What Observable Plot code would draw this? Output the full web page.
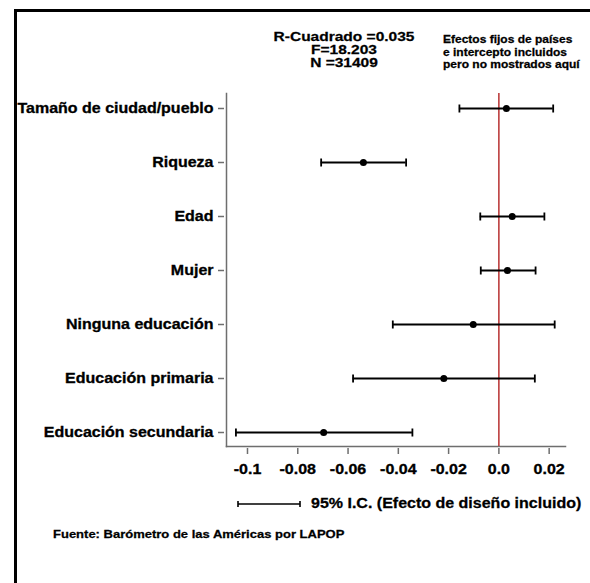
<!DOCTYPE html>
<html>
<head>
<meta charset="utf-8">
<script src="https://cdn.jsdelivr.net/npm/d3@7"></script>
<script src="https://cdn.jsdelivr.net/npm/@observablehq/plot@0.6"></script>
<style>
  html, body { margin: 0; padding: 0; background: #fff; }
  #wrap { position: relative; width: 590px; height: 583px; overflow: hidden; background: #fff;
          font-family: "Liberation Sans", Arial, Helvetica, sans-serif; font-weight: bold; color: #000; }
  #wrap svg.plot { position: absolute; left: 0; top: 0; background: transparent; }
  #wrap svg.plot text { stroke: #000; stroke-width: 0.35px; }
  .heavy { -webkit-text-stroke: 0.3px #000; }
  #border { position: absolute; left: 14px; top: 9px; width: 700px; height: 700px; border: 3px solid #000; box-sizing: border-box; }
  .statline { position: absolute; left: 244px; width: 200px; height: 13px; text-align: center; font-size: 15.5px; line-height: 13px;
              transform: scaleY(0.87); }
  .noteline { position: absolute; left: 443px; height: 12px; font-size: 12px; line-height: 12px; white-space: nowrap;
              transform: scaleY(0.87); }
  #legend { position: absolute; left: 236px; top: 492px; height: 24px; display: flex; align-items: center; font-size: 16px; white-space: nowrap; }
  #legend svg { display: block; margin-right: 9px; }
  #legend span { display: inline-block; transform: scaleY(0.87); }
  #source { position: absolute; left: 53px; top: 527px; font-size: 13px; white-space: nowrap; transform: scaleY(0.87); }
</style>
</head>
<body>
<div id="wrap">
  <div id="border"></div>
  <div id="legend" class="heavy"></div>
  <div id="source" class="heavy"></div>
</div>
<script>
// ---- data ----
const labels = ["Tamaño de ciudad/pueblo", "Riqueza", "Edad", "Mujer", "Ninguna educación", "Educación primaria", "Educación secundaria"];
const estimates = [0.0030, -0.0539, 0.0053, 0.0034, -0.0102, -0.0219, -0.0697];
const lower = [-0.0157, -0.0707, -0.0074, -0.0072, -0.0422, -0.0580, -0.1046];
const upper = [0.0216, -0.0369, 0.0181, 0.0146, 0.0222, 0.0143, -0.0344];
const xTicks = [-0.1, -0.08, -0.06, -0.04, -0.02, 0, 0.02];
const xTickLabels = ["-0.1", "-0.08", "-0.06", "-0.04", "-0.02", "0.0", "0.02"];
const statsLines = ["R-Cuadrado =0.035", "F=18.203", "N =31409"];
const noteLines = ["Efectos fijos de países", "e intercepto incluidos", "pero no mostrados aquí"];
const legendText = "95% I.C. (Efecto de diseño incluido)";
const sourceText = "Fuente: Barómetro de las Américas por LAPOP";

const data = labels.map((label, i) => ({label, est: estimates[i], lo: lower[i], hi: upper[i]}));
const tickLabel = new Map(xTicks.map((t, i) => [t, xTickLabels[i]]));

const font = "'Liberation Sans', Arial, Helvetica, sans-serif";
const axisGray = "#6e6e6e";
const capSymbol = {draw(ctx) { ctx.moveTo(0, -4); ctx.lineTo(0, 4); }};

const chart = Plot.plot({
  width: 590,
  height: 583,
  marginLeft: 226,
  marginRight: 25,
  marginTop: 93,
  marginBottom: 137,
  style: {fontFamily: font, fontWeight: "bold", fontSize: "16px", color: "#000", background: "transparent"},
  x: {domain: [-0.10835, 0.0265]},
  y: {type: "point", domain: labels, padding: 0, insetTop: 12, insetBottom: 12},
  marks: [
    Plot.frame({anchor: "left", stroke: axisGray, strokeWidth: 1.5}),
    Plot.frame({anchor: "bottom", stroke: axisGray, strokeWidth: 1.5}),
    Plot.ruleX([0], {stroke: "#b22222", strokeWidth: 1.4}),
    Plot.ruleY(data, {y: "label", x1: "lo", x2: "hi", stroke: "#000", strokeWidth: 1.8}),
    Plot.dot(data, {x: "lo", y: "label", symbol: capSymbol, fill: "none", stroke: "#000", strokeWidth: 1.8}),
    Plot.dot(data, {x: "hi", y: "label", symbol: capSymbol, fill: "none", stroke: "#000", strokeWidth: 1.8}),
    Plot.dot(data, {x: "est", y: "label", r: 3.5, fill: "#000", stroke: "none"}),
    Plot.axisX({ticks: xTicks, tickFormat: d => tickLabel.get(d), tickSize: 6, tickPadding: 10, dy: 2,
                stroke: axisGray, strokeWidth: 1.5, fill: "#000", fontSize: 16, fontWeight: "bold", label: null}),
    Plot.axisY({tickSize: 6, tickPadding: 5, dx: -2, stroke: axisGray, strokeWidth: 1.5, fill: "#000",
                fontSize: 16, fontWeight: "bold", label: null})
  ]
});
chart.classList.add("plot");
// slightly condensed vertical glyph proportions, as in the reference
chart.querySelectorAll("text").forEach(t => {
  const tr = t.getAttribute("transform");
  if (tr) t.setAttribute("transform", tr + " scale(1,0.87)");
});
const wrap = document.getElementById("wrap");
wrap.insertBefore(chart, document.getElementById("border").nextSibling);

// header statistics (line centres ~36, 49, 62) and note (~40, 52.5, 65)
statsLines.forEach((s, i) => {
  const d = document.createElement("div");
  d.className = "statline heavy"; d.style.top = (29.5 + 13 * i) + "px"; d.textContent = s; wrap.appendChild(d);
});
noteLines.forEach((s, i) => {
  const d = document.createElement("div");
  d.className = "noteline heavy"; d.style.top = (34 + 12.5 * i) + "px"; d.textContent = s; wrap.appendChild(d);
});
document.getElementById("source").textContent = sourceText;

// legend key
const leg = document.getElementById("legend");
const ns = "http://www.w3.org/2000/svg";
const ks = document.createElementNS(ns, "svg");
ks.setAttribute("width", 66); ks.setAttribute("height", 10);
const mk = (x1, y1, x2, y2) => { const l = document.createElementNS(ns, "line");
  l.setAttribute("x1", x1); l.setAttribute("y1", y1); l.setAttribute("x2", x2); l.setAttribute("y2", y2);
  l.setAttribute("stroke", "#000"); l.setAttribute("stroke-width", 1.6); ks.appendChild(l); };
mk(2, 5, 64, 5); mk(2, 2, 2, 8); mk(64, 2, 64, 8);
leg.appendChild(ks);
const lt = document.createElement("span"); lt.textContent = legendText; leg.appendChild(lt);
</script>
</body>
</html>
